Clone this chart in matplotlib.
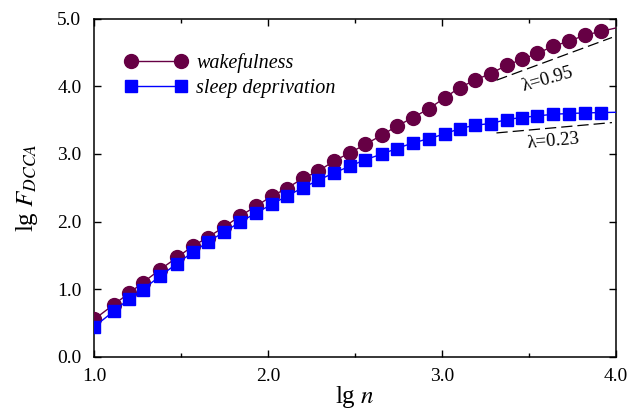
import matplotlib
matplotlib.use('Agg')
import matplotlib.pyplot as plt
from matplotlib.ticker import MultipleLocator

plt.rcParams['font.family'] = ['Liberation Serif', 'STIXGeneral', 'DejaVu Serif']
plt.rcParams['mathtext.fontset'] = 'stix'

# lg n (the last point lies on the frame edge, only the line reaches it)
lg_n = [1.0, 1.114, 1.204, 1.279, 1.380, 1.477, 1.568, 1.653, 1.748, 1.839,
        1.930, 2.021, 2.107, 2.199, 2.290, 2.380, 2.471, 2.561, 2.654, 2.740,
        2.835, 2.927, 3.017, 3.103, 3.190, 3.280, 3.375, 3.458, 3.548, 3.640,
        3.732, 3.822, 3.914, 4.0]

wake = [0.554, 0.775, 0.947, 1.095, 1.292, 1.470, 1.637, 1.765, 1.922, 2.080,
        2.225, 2.375, 2.489, 2.637, 2.745, 2.897, 3.015, 3.143, 3.276, 3.409,
        3.538, 3.671, 3.830, 3.981, 4.089, 4.188, 4.311, 4.395, 4.484, 4.592,
        4.666, 4.754, 4.810, 4.86]

sleep = [0.445, 0.677, 0.864, 0.997, 1.194, 1.381, 1.548, 1.696, 1.848, 1.991,
         2.125, 2.253, 2.375, 2.498, 2.612, 2.720, 2.818, 2.917, 2.996, 3.080,
         3.163, 3.227, 3.296, 3.375, 3.424, 3.449, 3.508, 3.538, 3.561, 3.586,
         3.597, 3.606, 3.611, 3.615]

# dashed fit lines (slope = lambda)
fit_x = [3.314, 3.978]
fit_wake = [4.089, 4.720]
fit_sleep = [3.310, 3.463]

maroon = '#660044'
blue = '#0000ff'

fig = plt.figure(figsize=(6.29, 4.12), dpi=100)
ax = fig.add_axes([0.1494, 0.1335, 0.8296, 0.8215])

n_marks = len(lg_n) - 1
ax.plot(lg_n, wake, color=maroon, lw=1.0, marker='o', ms=10, mec=maroon,
        mfc=maroon, markevery=slice(0, n_marks), label='wakefulness', zorder=3)
ax.plot(lg_n, sleep, color=blue, lw=1.0, marker='s', ms=8, mec=blue,
        mfc=blue, markevery=slice(0, n_marks), label='sleep deprivation', zorder=4)

ax.plot(fit_x, fit_wake, color='black', lw=0.9, dashes=(9, 4))
ax.plot(fit_x, fit_sleep, color='black', lw=0.9, dashes=(9, 4))
ax.text(3.61, 4.10, 'λ=0.95', fontsize=13.5, rotation=16, ha='center', va='center')
ax.text(3.64, 3.19, 'λ=0.23', fontsize=13.5, rotation=5, ha='center', va='center')

ax.set_xlim(1.0, 4.0)
ax.set_ylim(0.0, 5.0)
ax.xaxis.set_major_locator(MultipleLocator(1.0))
ax.xaxis.set_minor_locator(MultipleLocator(0.5))
ax.yaxis.set_major_locator(MultipleLocator(1.0))
ax.xaxis.set_major_formatter(lambda v, p: f'{v:.1f}')
ax.yaxis.set_major_formatter(lambda v, p: f'{v:.1f}')
ax.tick_params(which='both', direction='in', top=True, right=True, labelsize=14, width=1.0)
ax.tick_params(which='major', length=5)
ax.tick_params(which='minor', length=3)
ax.tick_params(axis='y', pad=9)
ax.tick_params(axis='x', pad=8)
for s in ax.spines.values():
    s.set_linewidth(1.1)

ax.set_xlabel(r'lg $n$', fontsize=18, labelpad=-1)
ax.set_ylabel(r'lg $F_{DCCA}$', fontsize=18, labelpad=12)

ax.legend(loc='upper left', bbox_to_anchor=(0.059, 0.898), frameon=False,
          prop={'family': 'Liberation Serif', 'style': 'italic', 'size': 14.5},
          handlelength=3.1, handletextpad=0.45, labelspacing=0.3,
          borderpad=0, borderaxespad=0, numpoints=2)

fig.savefig('out.png', dpi=100)
